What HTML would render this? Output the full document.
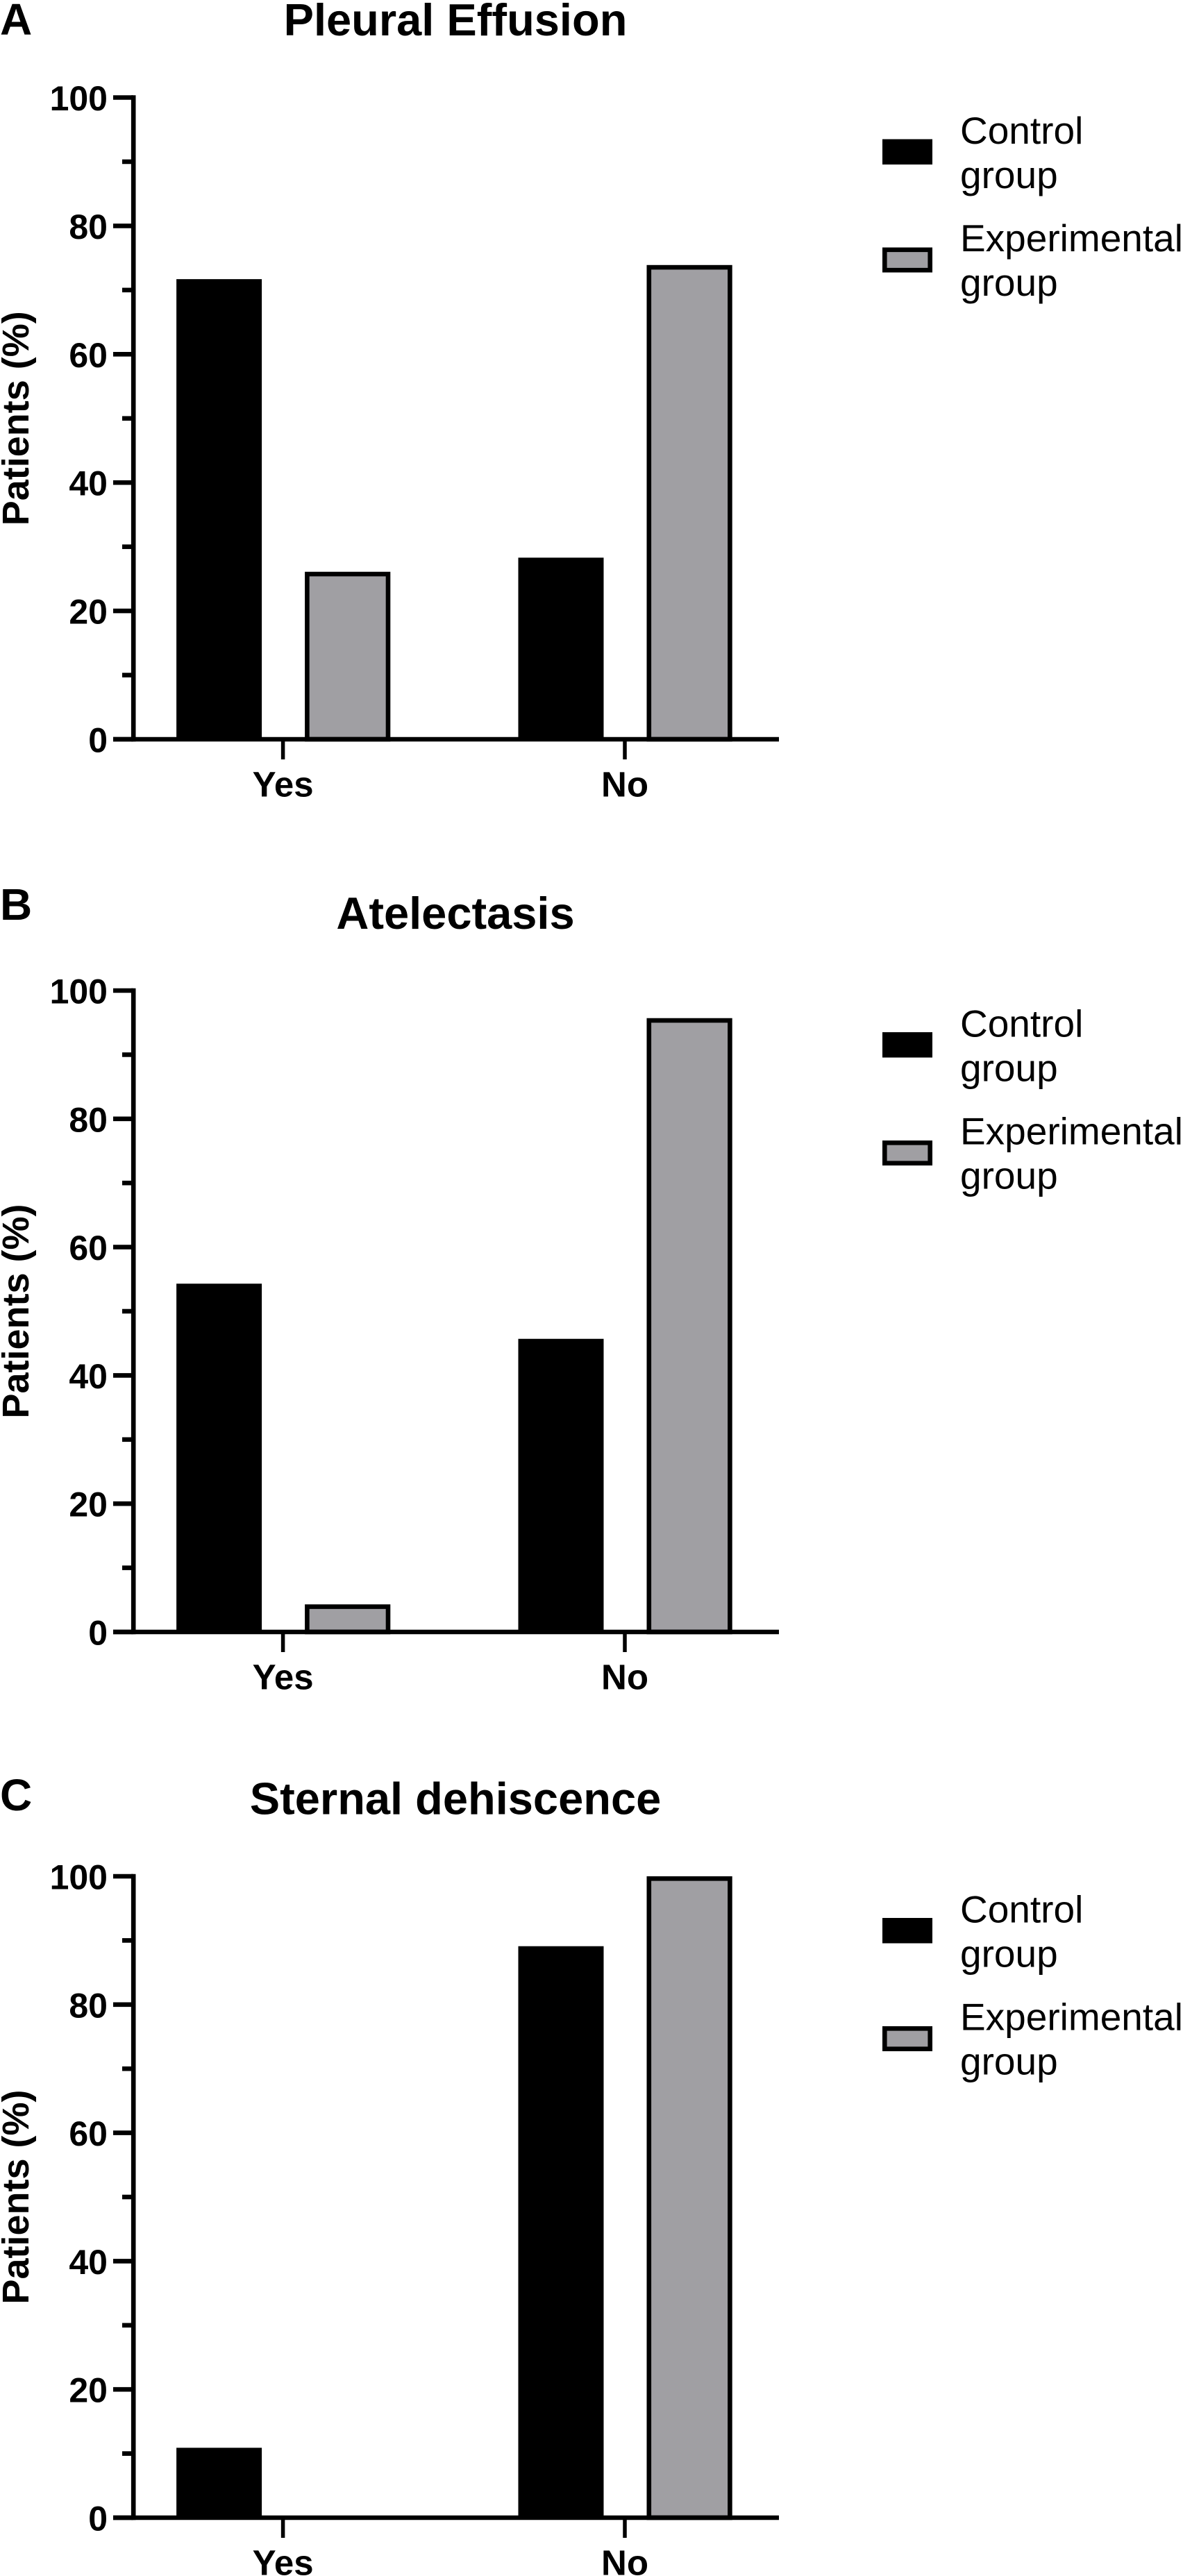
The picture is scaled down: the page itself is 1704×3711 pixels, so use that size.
<!DOCTYPE html>
<html lang="en">
<head>
<meta charset="utf-8">
<title>Patients (%) by complication: Control vs Experimental group</title>
<style>
  html, body { margin: 0; padding: 0; background: #fff; }
  body { width: 1704px; height: 3711px; overflow: hidden; }
  svg { display: block; }
  text { font-family: "Liberation Sans", Arial, sans-serif; fill: #000; }
  .bold { font-weight: 700; }
</style>
</head>
<body>
<svg id="figure" xmlns="http://www.w3.org/2000/svg" width="1704" height="3711" viewBox="0 0 1704 3711"></svg>
<script>
// Chart data
const categories = ["Yes", "No"];
const yTickLabels = [0, 20, 40, 60, 80, 100];
const yMinorTicks = [10, 30, 50, 70, 90];
const yAxisTitle = "Patients (%)";
const controlLegendLines = ["Control", "group"];
const experimentalLegendLines = ["Experimental", "group"];

const pleuralControl = [71.7, 28.3];
const pleuralExperimental = [26.1, 73.9];
const atelectasisControl = [54.3, 45.7];
const atelectasisExperimental = [4.3, 95.7];
const sternalControl = [10.9, 89.1];
const sternalExperimental = [0, 100];

const SVG_NS = "http://www.w3.org/2000/svg";
const figure = document.getElementById("figure");
const BLACK = "#000";
const GRAY = "#a09fa3";
const STROKE = 6.6;

function make(tag, attrs, parent, content) {
  const el = document.createElementNS(SVG_NS, tag);
  for (const key in attrs) el.setAttribute(key, attrs[key]);
  if (content !== undefined) el.textContent = content;
  parent.appendChild(el);
  return el;
}

function drawPanel(opts) {
  const yScale = function (v) { return opts.y0 - (v / 100) * (opts.y0 - opts.y100); };
  const xScale = function (i) { return 407.6 + i * 492.4; };

  const panel = make("g", {}, figure);
  
  

  const letter = make("text", { x: opts.letterX, y: opts.letterY, "font-size": 64, "class": "bold" }, panel, opts.letter);
  
  

  const title = make("text", { x: 656, y: opts.titleY, "font-size": 65, "class": "bold", "text-anchor": "middle" }, panel, opts.title);
  
  

  // Bars
  categories.forEach(function (cat, i) {
    const cx = xScale(i);
    const top1 = yScale(opts.control[i]);
    const controlBar = make("rect", { x: cx - 153.5, y: top1, width: 123, height: Math.max(0, opts.y0 - top1), fill: BLACK }, panel);
    
    

    const top2 = yScale(opts.experimental[i]);
    const expBar = make("rect", {
      x: cx + 31.5 + STROKE / 2,
      y: top2 + STROKE / 2,
      width: 123.2 - STROKE,
      height: Math.max(0, opts.y0 - top2 - STROKE / 2),
      fill: GRAY, stroke: BLACK, "stroke-width": STROKE
    }, panel);
    
    
  });

  // Y axis
  const yAxis = make("line", { x1: 192.2, x2: 192.2, y1: yScale(100) - STROKE / 2, y2: yScale(0) + STROKE / 2, stroke: BLACK, "stroke-width": STROKE }, panel);
  
  

  yTickLabels.forEach(function (v) {
    const tick = make("line", { x1: 163, x2: 192, y1: yScale(v), y2: yScale(v), stroke: BLACK, "stroke-width": STROKE }, panel);
    
    

    const label = make("text", { x: 155, y: yScale(v) + 18.5, "font-size": 50, "class": "bold", "text-anchor": "end" }, panel, String(v));
    
    
  });

  yMinorTicks.forEach(function (v) {
    const tick = make("line", { x1: 176, x2: 192, y1: yScale(v), y2: yScale(v), stroke: BLACK, "stroke-width": STROKE }, panel);
    
    
  });

  const midY = (yScale(0) + yScale(100)) / 2;
  const yTitle = make("text", { x: 0, y: 0, "font-size": 54, "class": "bold", "text-anchor": "middle", transform: "translate(41 " + midY + ") rotate(-90)" }, panel, yAxisTitle);
  
  

  // X axis
  const xAxis = make("line", { x1: 163, x2: 1122, y1: yScale(0), y2: yScale(0), stroke: BLACK, "stroke-width": STROKE }, panel);
  
  

  categories.forEach(function (cat, i) {
    const tick = make("line", { x1: xScale(i), x2: xScale(i), y1: yScale(0), y2: yScale(0) + 29, stroke: BLACK, "stroke-width": 5.5 }, panel);
    
    

    const label = make("text", { x: xScale(i), y: yScale(0) + 82.5, "font-size": 51, "class": "bold", "text-anchor": "middle" }, panel, cat);
    
    
  });

  // Legend
  const legendTop = yScale(100);
  const controlEntry = make("g", {}, panel);
  
  

  const controlSwatch = make("rect", { x: 1271, y: legendTop + 60, width: 72, height: 36.5, fill: BLACK }, controlEntry);
  
  

  controlLegendLines.forEach(function (line, k) {
    const t = make("text", { x: 1383, y: legendTop + 66.5 + k * 64, "font-size": 55 }, controlEntry, line);
    
    
  });

  const expEntry = make("g", {}, panel);
  
  

  const expSwatch = make("rect", {
    x: 1271 + STROKE / 2, y: legendTop + 216 + STROKE / 2,
    width: 72 - STROKE, height: 36 - STROKE,
    fill: GRAY, stroke: BLACK, "stroke-width": STROKE
  }, expEntry);
  
  

  experimentalLegendLines.forEach(function (line, k) {
    const t = make("text", { x: 1383, y: legendTop + 221.5 + k * 64, "font-size": 55 }, expEntry, line);
    
    
  });
}

drawPanel({
  name: "pleural-effusion", letter: "A", title: "Pleural Effusion",
  letterX: 0, letterY: 50, titleY: 51, y100: 140.5, y0: 1065,
  control: pleuralControl, experimental: pleuralExperimental
});
drawPanel({
  name: "atelectasis", letter: "B", title: "Atelectasis",
  letterX: 0, letterY: 1325, titleY: 1338, y100: 1427, y0: 2351,
  control: atelectasisControl, experimental: atelectasisExperimental
});
drawPanel({
  name: "sternal-dehiscence", letter: "C", title: "Sternal dehiscence",
  letterX: 0, letterY: 2608, titleY: 2613.5, y100: 2703, y0: 3627,
  control: sternalControl, experimental: sternalExperimental
});
</script>
</body>
</html>
